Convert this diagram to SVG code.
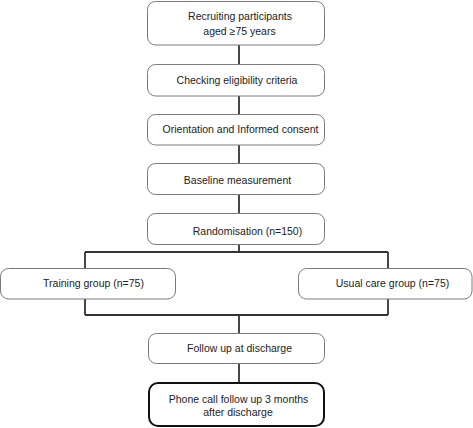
<svg xmlns="http://www.w3.org/2000/svg" width="473" height="428" viewBox="0 0 473 428">
<style>
.box{fill:#fff;stroke:#7a7a7a;stroke-width:1}
.bold{fill:#fff;stroke:#111;stroke-width:2}
.t{font-family:"Liberation Sans",Arial,sans-serif;font-size:10.5px;fill:#222;text-anchor:middle}
.c{fill:none;stroke:#333;stroke-width:1.8}
</style>
<rect width="473" height="428" fill="#fff"/>
<g id="connectors">
<path class="c" d="M239 45V64M239 96V114M239 145V163M239 194V213M239 244V252M85 252H388M85 252V268M388 252V268M85 299V315M388 299V315M85 315H388M239 315V333M239 363V383"/>
</g>
<g id="n1"><rect class="box" x="147.5" y="1.5" width="177" height="43.5" rx="8"/>
<text class="t" x="240" y="19.5">Recruiting participants</text><text class="t" x="239.5" y="34.5">aged ≥75 years</text></g>
<g id="n2"><rect class="box" x="147.5" y="64.5" width="177" height="31.5" rx="8"/>
<text class="t" x="237" y="84">Checking eligibility criteria</text></g>
<g id="n3"><rect class="box" x="147.5" y="114.5" width="177" height="30.5" rx="8"/>
<text class="t" x="240.5" y="133">Orientation and Informed consent</text></g>
<g id="n4"><rect class="box" x="147.5" y="163.5" width="177" height="31" rx="8"/>
<text class="t" x="237.5" y="184">Baseline measurement</text></g>
<g id="n5"><rect class="box" x="147.5" y="213.5" width="177" height="31" rx="8"/>
<text class="t" x="247.5" y="235">Randomisation (n=150)</text></g>
<g id="n6"><rect class="box" x="0.5" y="268.5" width="175" height="30.5" rx="8"/>
<text class="t" x="93.5" y="287">Training group (n=75)</text></g>
<g id="n7"><rect class="box" x="298.5" y="268.5" width="173.5" height="30.5" rx="8"/>
<text class="t" x="392.5" y="287">Usual care group (n=75)</text></g>
<g id="n8"><rect class="box" x="148.5" y="333.5" width="176" height="30" rx="8"/>
<text class="t" x="239.5" y="352">Follow up at discharge</text></g>
<g id="n9"><rect class="bold" x="149" y="383" width="175" height="43" rx="9"/>
<text class="t" x="238.5" y="403">Phone call follow up 3 months</text><text class="t" x="238" y="416">after discharge</text></g>
</svg>
